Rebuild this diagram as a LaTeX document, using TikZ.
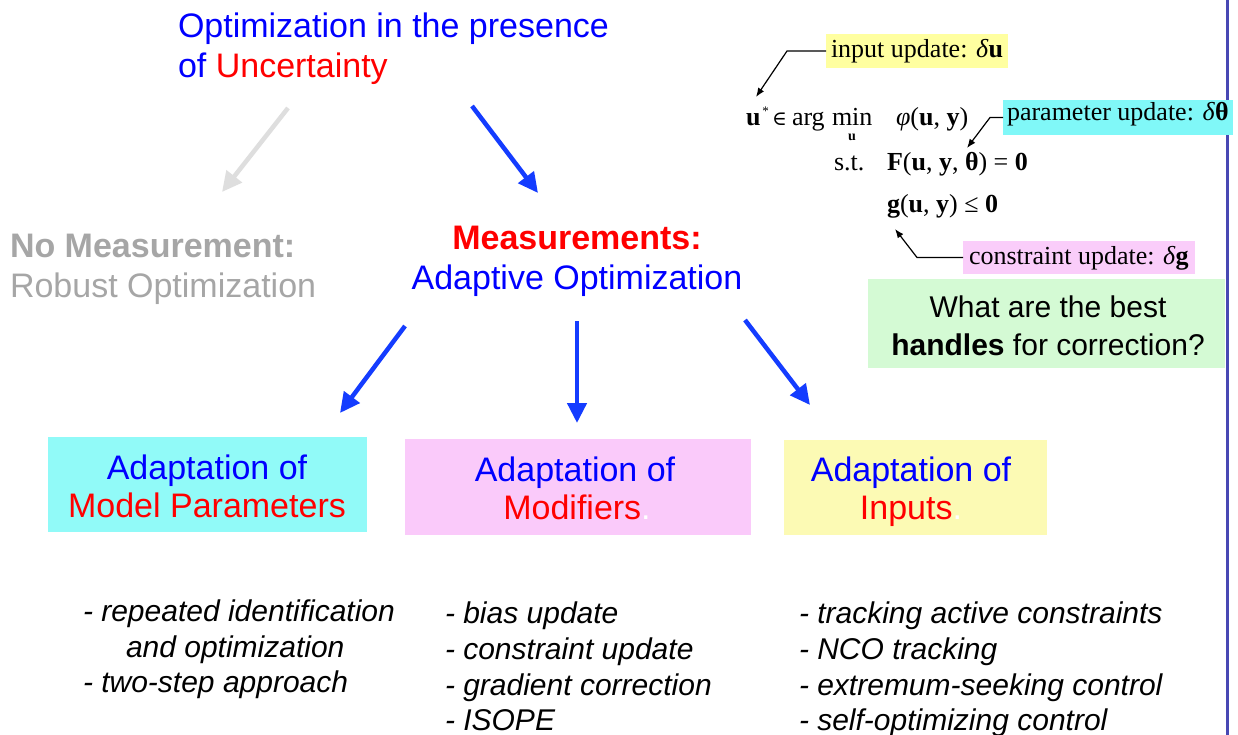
\documentclass[tikz,border=0pt]{standalone}
\usepackage{fontspec}
\setmainfont{Liberation Sans}
\newfontfamily\tms{Liberation Serif}
\newfontfamily\dvs{DejaVu Serif}
\usetikzlibrary{arrows.meta}
\definecolor{tblue}{RGB}{0,0,255}
\definecolor{tred}{RGB}{255,0,0}
\definecolor{tgray}{RGB}{166,166,166}
\definecolor{agray}{RGB}{222,222,222}
\definecolor{ablue}{RGB}{20,60,255}
\definecolor{bcyan}{RGB}{145,250,248}
\definecolor{bpink}{RGB}{250,202,250}
\definecolor{byel}{RGB}{252,250,180}
\definecolor{lyel}{RGB}{255,255,160}
\definecolor{lcyan}{RGB}{128,248,248}
\definecolor{lpink}{RGB}{250,205,250}
\definecolor{bgreen}{RGB}{212,250,212}
\definecolor{vlinec}{RGB}{72,72,180}
\begin{document}
\begin{tikzpicture}[x=1pt,y=-1pt,
  every node/.style={inner sep=0pt, outer sep=0pt},
  big/.style={font=\fontsize{34}{40}\selectfont, anchor=base},
  bigl/.style={font=\fontsize{34}{40}\selectfont, anchor=base west},
  lst/.style={font=\fontsize{30}{36}\selectfont\itshape, anchor=base west},
  qtext/.style={font=\fontsize{30}{36}\selectfont, anchor=base},
  frm/.style={font=\tms\fontsize{26}{30}\selectfont, anchor=base west},
  panel/.style={anchor=north west, fill=#1},
  lbl/.style={font=\tms\fontsize{26}{30}\selectfont, anchor=base west, fill=#1, inner xsep=5pt, inner ysep=5pt},
  bigarrow/.style={line width=4.5pt, -{Triangle[length=20pt,width=19pt]}, draw=ablue},
  grayarrow/.style={line width=4.5pt, -{Triangle[length=20pt,width=19pt]}, draw=agray},
  farrow/.style={line width=1.2pt, -{Latex[length=9pt,width=7pt]}, draw=black}
]
\useasboundingbox (0,0) rectangle (1238,735);
\fill[white] (0,0) rectangle (1238,735);

% right-hand rule
\coordinate (vtop) at (1227.5,0);
\coordinate (vbot) at (1227.5,735);
\draw[vlinec, line width=3pt] (vtop) -- (vbot);

% title
\node[bigl, text=tblue] (title1) at (178,38) {Optimization in the presence};
\node[bigl, text=tblue] (title2) at (178,78) {of \textcolor{tred}{Uncertainty}};

% second level
\node[bigl, text=tgray] (nm1) at (10,257) {\bfseries No Measurement:};
\node[bigl, text=tgray] (nm2) at (10,297) {Robust Optimization};
\node[big, text=tred] (ms1) at (577,250) {\bfseries Measurements:};
\node[big, text=tblue] (ms2) at (577,289) {Adaptive Optimization};

% top arrows
\coordinate (ga) at (288,108);
\coordinate (gb) at (222,192);
\coordinate (ba) at (472,106);
\coordinate (bb) at (538,193);
\draw[grayarrow] (ga) -- (gb);
\draw[bigarrow] (ba) -- (bb);

% panels
\node[panel=bcyan, minimum width=319pt, minimum height=95pt] (b1) at (48,437) {};
\node[panel=bpink, minimum width=346pt, minimum height=96pt] (b2) at (405,439) {};
\node[panel=byel, minimum width=263pt, minimum height=95pt] (b3) at (784,440) {};

\node[big, text=tblue] (b1a) at (207,479) {Adaptation of};
\node[big, text=tred] (b1b) at (207,517) {Model Parameters};
\node[big, text=tblue] (b2a) at (575,481) {Adaptation of};
\node[big, text=tred] (b2b) at (577,519) {Modifiers\textcolor{white}{.}};
\node[big, text=tblue] (b3a) at (911,481) {Adaptation of};
\node[big, text=tred] (b3b) at (911,519) {Inputs\textcolor{white}{.}};

% lower arrows
\coordinate (la) at (405,326);
\coordinate (lb) at (340,413);
\coordinate (ca) at (577,321);
\coordinate (cb) at (577,423);
\coordinate (ra) at (745,320);
\coordinate (rb) at (810,405);
\draw[bigarrow] (la) -- (lb);
\draw[bigarrow] (ca) -- (cb);
\draw[bigarrow] (ra) -- (rb);

% lists
\node[lst] (l11) at (83,621) {- repeated identification};
\node[lst] (l12) at (126,657) {and optimization};
\node[lst] (l13) at (83,692) {- two-step approach};

\node[lst] (l21) at (445,623) {- bias update};
\node[lst] (l22) at (445,659) {- constraint update};
\node[lst] (l23) at (445,695) {- gradient correction};
\node[lst] (l24) at (445,730) {- ISOPE};

\node[lst] (l31) at (799,623) {- tracking active constraints};
\node[lst] (l32) at (799,659) {- NCO tracking};
\node[lst] (l33) at (799,695) {- extremum-seeking control};
\node[lst] (l34) at (799,730) {- self-optimizing control};

% formula
\node[frm] (fu) at (746,126) {\textbf{u}\hspace{2pt}\raisebox{10pt}{\fontsize{13}{14}\selectfont *}};
\node[frm] (fin) at (772,126) {{\dvs\fontsize{20}{24}\selectfont ∈}};
\node[frm] (farg) at (792,126) {arg};
\node[frm] (fmin) at (832,126) {min};
\node[frm, anchor=base] (fsub) at (852,141) {\fontsize{14}{14}\selectfont\textbf{u}};
\node[frm] (fphi) at (896,126) {\textit{φ}(\textbf{u}, \textbf{y})};
\node[frm] (fst) at (834,171) {s.t.};
\node[frm] (fF) at (887,171) {\textbf{F}(\textbf{u}, \textbf{y}, \textbf{θ}) = \textbf{0}};
\node[frm] (fg) at (887,213) {\textbf{g}(\textbf{u}, \textbf{y}) ≤ \textbf{0}};

% update labels
\node[lbl=lyel, text height=19pt, text depth=5pt] (lin) at (826,58) {input update: \textit{δ}\textbf{u}};
\node[lbl=lcyan, text height=16pt, text depth=9pt, inner xsep=4pt] (lpar) at (1003,121) {parameter update: \textit{δ}\textbf{θ}};
\node[lbl=lpink, text height=18pt, text depth=5pt, inner xsep=6pt] (lcon) at (963,264) {constraint update: \textit{δ}\textbf{g}};

\coordinate (lin1) at (787,51);
\coordinate (lin2) at (756,97);
\draw[farrow] (lin.west) -- (lin1) -- (lin2);
\coordinate (lp1) at (990,117.5);
\coordinate (lp2) at (967,148);
\draw[farrow] (lpar.west) -- (lp1) -- (lp2);
\coordinate (lc1) at (917,257.5);
\coordinate (lc2) at (895,229);
\draw[farrow] (lcon.west) -- (lc1) -- (lc2);

% question box
\node[panel=bgreen, minimum width=357pt, minimum height=89pt] (qb) at (868,279) {};
\node[qtext] (q1) at (1048,317) {What are the best};
\node[qtext] (q2) at (1048,355) {\textbf{handles} for correction?};
\end{tikzpicture}
\end{document}
